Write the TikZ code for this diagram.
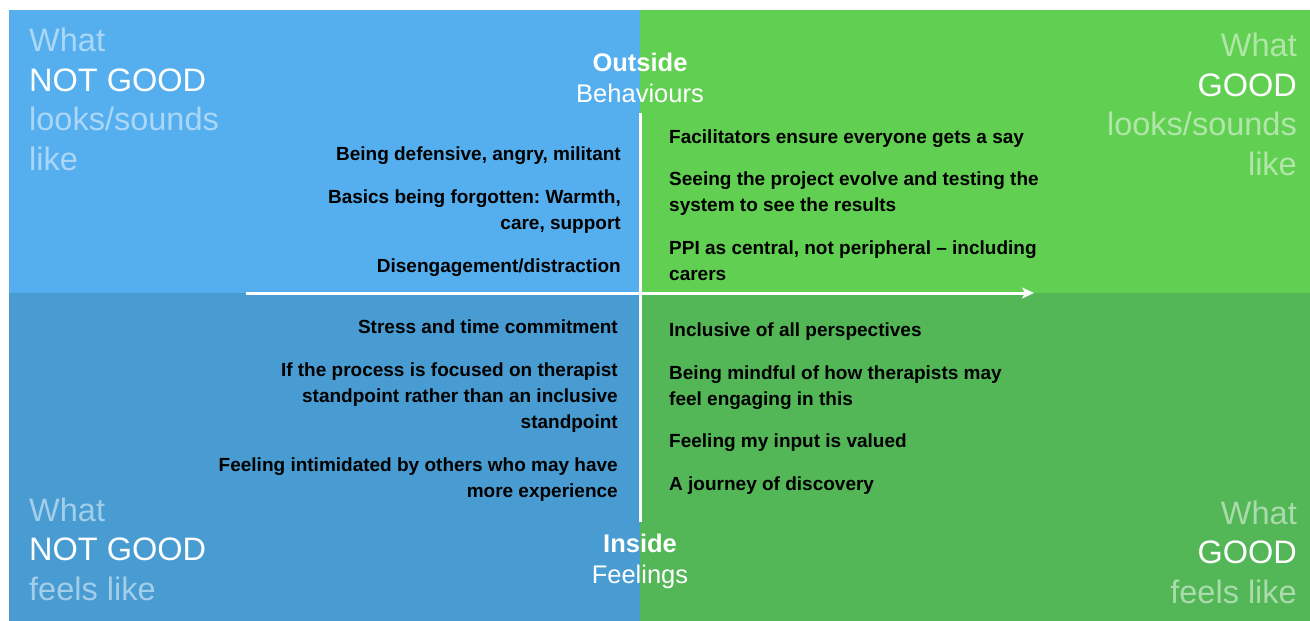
\documentclass[tikz,border=0pt]{standalone}
\usepackage{fontspec}
\setmainfont{Liberation Sans}
\usetikzlibrary{arrows.meta,positioning}
\frenchspacing

\definecolor{lookbad}{HTML}{55AFEF}
\definecolor{feelbad}{HTML}{489CD2}
\definecolor{lookgood}{HTML}{61CF51}
\definecolor{feelgood}{HTML}{53B657}
\colorlet{lookbadtxt}{white!50!lookbad}
\colorlet{feelbadtxt}{white!50!feelbad}
\colorlet{lookgoodtxt}{white!50!lookgood}
\colorlet{feelgoodtxt}{white!50!feelgood}

\begin{document}
\begin{tikzpicture}[
  x=1pt, y=-1pt,
  item/.style={inner sep=0pt, font=\fontsize{19}{26}\selectfont\bfseries},
  itemL/.style={item, anchor=base east, align=right},
  itemR/.style={item, anchor=base west, align=left},
  corner/.style={inner sep=0pt, text=white, font=\fontsize{32.5}{39.5}\selectfont},
  axislabel/.style={inner sep=0pt, text=white, align=center, anchor=base,
    font=\fontsize{25.5}{30.5}\selectfont},
  axis/.style={white, line width=3pt}
]
\useasboundingbox (0,0) rectangle (1310,621);
\fill[white] (0,0) rectangle (1310,621);

% the four quadrants
\fill[lookbad] (9,10) rectangle (640,293);
\fill[lookgood] (640,10) rectangle (1310,293);
\fill[feelbad] (9,293) rectangle (640,621);
\fill[feelgood] (640,293) rectangle (1310,621);

% corner headings (base = last line)
\node[corner, anchor=base west, align=left] (nglook) at (29,170)
  {\textcolor{lookbadtxt}{What}\\NOT GOOD\\\textcolor{lookbadtxt}{looks/sounds}\\\textcolor{lookbadtxt}{like}};
\node[corner, anchor=base east, align=right] (glook) at (1297,175)
  {\textcolor{lookgoodtxt}{What}\\GOOD\\\textcolor{lookgoodtxt}{looks/sounds}\\\textcolor{lookgoodtxt}{like}};
\node[corner, anchor=base west, align=left] (ngfeel) at (29,600)
  {\textcolor{feelbadtxt}{What}\\NOT GOOD\\\textcolor{feelbadtxt}{feels like}};
\node[corner, anchor=base east, align=right] (gfeel) at (1297,603)
  {\textcolor{feelgoodtxt}{What}\\GOOD\\\textcolor{feelgoodtxt}{feels like}};

% axes
\coordinate (top) at (640,113);
\coordinate (bottom) at (640,522);
\coordinate (west) at (246,293);
\coordinate (east) at (1034,293);
\draw[axis] (top) -- (bottom);
\draw[axis, -{Stealth[length=12pt, width=11pt, inset=3pt]}] (west) -- (east);

\node[axislabel] (outside) at (640,102) {\textbf{Outside}\\Behaviours};
\node[axislabel] (inside) at (640,583) {\textbf{Inside}\\Feelings};

% not good, looks/sounds
\node[itemL] (defensive) at (621,160) {Being defensive, angry, militant};
\node[itemL] (basics) at (621,229) {Basics being forgotten: Warmth,\\care, support};
\node[itemL] (disengage) at (621,272) {Disengagement/distraction};

% good, looks/sounds
\node[itemR] (say) at (669,143) {Facilitators ensure everyone gets a say};
\node[itemR] (evolve) at (669,211) {Seeing the project evolve and testing the\\system to see the results};
\node[itemR] (ppi) at (669,280) {PPI as central, not peripheral -- including\\carers};

% not good, feels
\node[itemL] (stress) at (618,333) {Stress and time commitment};
\node[itemL] (focus) at (618,428) {If the process is focused on therapist\\standpoint rather than an inclusive\\standpoint};
\node[itemL] (intimid) at (618,497) {Feeling intimidated by others who may have\\more experience};

% good, feels
\node[itemR] (inclusive) at (669,336) {Inclusive of all perspectives};
\node[itemR] (mindful) at (669,405) {Being mindful of how therapists may\\feel engaging in this};
\node[itemR] (valued) at (669,447) {Feeling my input is valued};
\node[itemR] (journey) at (669,490) {A journey of discovery};
\end{tikzpicture}
\end{document}
